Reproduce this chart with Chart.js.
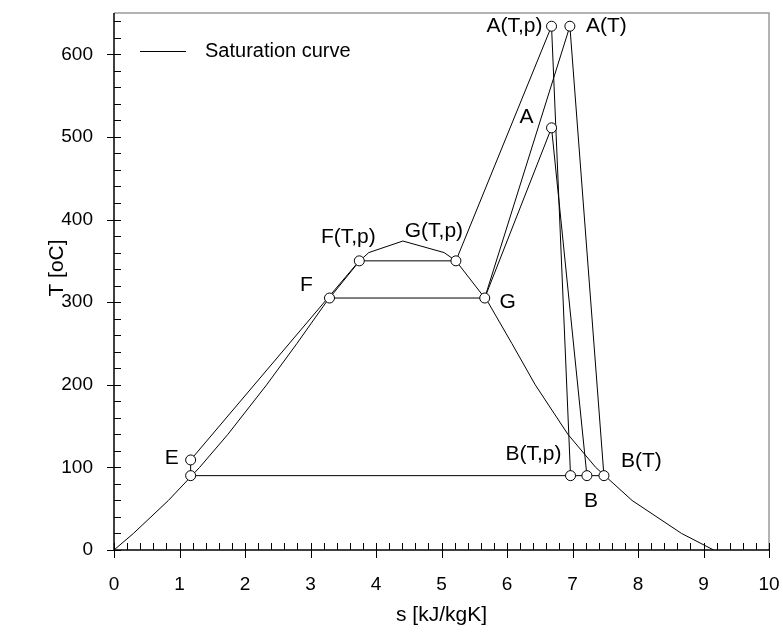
<!DOCTYPE html>
<html>
<head>
<meta charset="utf-8">
<script src="https://cdn.jsdelivr.net/npm/chart.js@4.4.0/dist/chart.umd.min.js"></script>
<style>
  html, body { margin: 0; padding: 0; background: #fff; }
  #wrap { width: 783px; height: 636px; }
</style>
</head>
<body>
<div id="wrap"><canvas id="tsChart" width="783" height="636"></canvas></div>
<script>
// saturation curve of water: entropy s [kJ/kgK] and temperature T [oC]
const satS = [0, 0.296, 0.831, 1.307, 1.739, 2.331, 2.793, 3.24, 3.75, 3.89, 4.41,
              5.04, 5.22, 5.71, 6.074, 6.431, 6.93, 7.354, 7.909, 8.666, 9.155];
const satT = [0, 20, 60, 100, 140, 200, 250, 300, 350, 360, 374,
              360, 350, 300, 250, 200, 140, 100, 60, 20, 0];

// cycle states (E0 = condensate point under E, no label)
const stateNames = ['E0', 'E', 'F(T,p)', 'G(T,p)', 'A(T,p)', 'B(T,p)', 'F', 'G', 'A(T)', 'B(T)', 'A', 'B'];
const stateS = [1.17, 1.17, 3.745, 5.22, 6.68, 6.97, 3.29, 5.66, 6.96, 7.48, 6.68, 7.22];
const stateT = [90, 109, 350, 350, 634, 90, 305, 305, 634, 90, 511, 90];

// process lines, as lists of state names
const paths = [
    ['E0', 'E', 'F(T,p)', 'G(T,p)', 'A(T,p)', 'B(T,p)'],
    ['F', 'G', 'A(T)', 'B(T)'],
    ['G', 'A', 'B'],
    ['B(T)', 'B', 'B(T,p)', 'E0']
];

// major ticks (minor ones every fifth of a step)
const xMajor = [0, 1, 2, 3, 4, 5, 6, 7, 8, 9, 10];
const yMajor = [0, 100, 200, 300, 400, 500, 600];

const FONT = '"Liberation Sans", Arial, sans-serif';
const TICK_SIZE = 19;
const TITLE_SIZE = 21;
const LEGEND_SIZE = 20;
const LABEL_SIZE = 21;

// where each state label sits relative to its marker (pixels)
const labelStyle = {
    'E':      { dx: -19, dy: -2,  align: 'center' },
    'F(T,p)': { dx: -11, dy: -24, align: 'center' },
    'G(T,p)': { dx: -22, dy: -30, align: 'center' },
    'A(T,p)': { dx: -9,  dy: 0,   align: 'right' },
    'B(T,p)': { dx: -9,  dy: -21, align: 'right' },
    'F':      { dx: -23, dy: -13, align: 'center' },
    'G':      { dx: 23,  dy: 4,   align: 'center' },
    'A(T)':   { dx: 16,  dy: 0,   align: 'left' },
    'B(T)':   { dx: 17,  dy: -14, align: 'left' },
    'A':      { dx: -25, dy: -11, align: 'center' },
    'B':      { dx: 4,   dy: 26,  align: 'center' }
};

function stateXY(name) {
    const i = stateNames.indexOf(name);
    return { x: stateS[i], y: stateT[i] };
}

const datasets = [];

// markers, drawn on top
datasets.push({
    label: 'states',
    data: stateNames.map(stateXY),
    showLine: false,
    pointRadius: 5,
    pointBorderWidth: 1,
    pointBorderColor: '#000',
    pointBackgroundColor: '#fff',
    order: 0
});

datasets.push({
    label: 'Saturation curve',
    data: satS.map((s, i) => ({ x: s, y: satT[i] })),
    showLine: true,
    borderColor: '#000',
    borderWidth: 1,
    pointRadius: 0,
    tension: 0,
    order: 1
});

paths.forEach((p, k) => {
    datasets.push({
        label: 'path' + k,
        data: p.map(stateXY),
        showLine: true,
        borderColor: '#000',
        borderWidth: 1,
        pointRadius: 0,
        tension: 0,
        order: 1
    });
});

const AREA = { left: 114, top: 13, right: 769, bottom: 550 };

const decorPlugin = {
    id: 'decor',
    afterDraw(chart) {
        const ctx = chart.ctx;
        const xs = chart.scales.x;
        const ys = chart.scales.y;
        const a = chart.chartArea;
        ctx.save();

        // grey frame at top and right
        ctx.strokeStyle = '#9a9a9a';
        ctx.lineWidth = 1.5;
        ctx.beginPath();
        ctx.moveTo(a.left, a.top);
        ctx.lineTo(a.right, a.top);
        ctx.lineTo(a.right, a.bottom);
        ctx.stroke();

        // black axes
        ctx.strokeStyle = '#000';
        ctx.lineWidth = 1.5;
        ctx.beginPath();
        ctx.moveTo(a.left, a.top);
        ctx.lineTo(a.left, a.bottom);
        ctx.lineTo(a.right, a.bottom);
        ctx.stroke();

        ctx.lineWidth = 1;
        ctx.beginPath();
        // y ticks: minor inside, major crossing the axis
        for (let v = 0; v <= ys.max; v += 20) {
            const py = Math.round(ys.getPixelForValue(v)) + 0.5;
            const major = yMajor.includes(v);
            ctx.moveTo(a.left - (major ? 7 : 0), py);
            ctx.lineTo(a.left + 7, py);
        }
        // x ticks
        for (let i = 0; i <= 50; i++) {
            const v = i / 5;
            const px = Math.round(xs.getPixelForValue(v)) + 0.5;
            const major = xMajor.includes(v);
            ctx.moveTo(px, a.bottom + (major ? 8 : 0));
            ctx.lineTo(px, a.bottom - 7);
        }
        ctx.stroke();

        ctx.fillStyle = '#000';
        ctx.textBaseline = 'middle';

        // y axis title
        ctx.save();
        ctx.translate(57, 268);
        ctx.rotate(-Math.PI / 2);
        ctx.textAlign = 'center';
        ctx.font = TITLE_SIZE + 'px ' + FONT;
        ctx.fillText('T [oC]', 0, 0);
        ctx.restore();

        // legend
        const ly = 51;
        ctx.beginPath();
        ctx.moveTo(140, ly + 0.5);
        ctx.lineTo(186, ly + 0.5);
        ctx.stroke();
        ctx.font = LEGEND_SIZE + 'px ' + FONT;
        ctx.textAlign = 'left';
        ctx.fillText(chart.data.datasets[1].label, 205, ly);

        // state labels
        ctx.font = LABEL_SIZE + 'px ' + FONT;
        stateNames.forEach((name, i) => {
            const st = labelStyle[name];
            if (!st) return;
            const px = xs.getPixelForValue(stateS[i]);
            const py = ys.getPixelForValue(stateT[i]);
            ctx.textAlign = st.align;
            ctx.fillText(name, px + st.dx, py + st.dy);
        });
        ctx.restore();
    }
};

new Chart(document.getElementById('tsChart'), {
    type: 'scatter',
    data: { datasets },
    options: {
        responsive: false,
        animation: false,
        layout: {
            padding: { left: 0, top: AREA.top, right: 783 - AREA.right, bottom: 0 }
        },
        plugins: {
            legend: { display: false },
            tooltip: { enabled: false }
        },
        scales: {
            x: {
                type: 'linear',
                min: 0,
                max: 10,
                grid: { display: false, drawTicks: false },
                border: { display: false },
                ticks: {
                    stepSize: 1,
                    padding: 23,
                    color: '#000',
                    font: { family: FONT, size: TICK_SIZE },
                    maxRotation: 0
                },
                title: {
                    display: true,
                    text: 's [kJ/kgK]',
                    color: '#000',
                    font: { family: FONT, size: TITLE_SIZE },
                    padding: { top: 0, bottom: 8 }
                },
                afterFit: (scale) => {
                    scale.height = 636 - AREA.bottom;
                    scale.paddingLeft = 0;
                    scale.paddingRight = 0;
                }
            },
            y: {
                type: 'linear',
                min: 0,
                max: 650,
                grid: { display: false, drawTicks: false },
                border: { display: false },
                ticks: {
                    stepSize: 100,
                    includeBounds: false,
                    padding: 21,
                    color: '#000',
                    font: { family: FONT, size: TICK_SIZE }
                },
                afterFit: (scale) => {
                    scale.width = AREA.left;
                    scale.paddingTop = 0;
                    scale.paddingBottom = 0;
                }
            }
        }
    },
    plugins: [decorPlugin]
});
</script>
</body>
</html>
